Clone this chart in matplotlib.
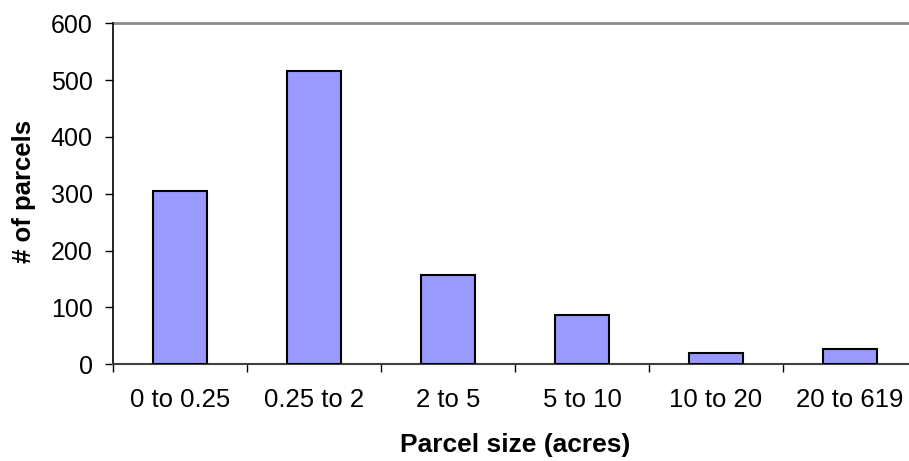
import matplotlib
matplotlib.use("Agg")
import matplotlib.pyplot as plt
import numpy as np

categories = ["0 to 0.25", "0.25 to 2", "2 to 5", "5 to 10", "10 to 20", "20 to 619"]
parcels = [305, 516, 157, 87, 20, 27]
yticks = [0, 100, 200, 300, 400, 500, 600]

plt.rcParams["font.family"] = ["Liberation Sans", "DejaVu Sans"]

W, H = 909, 461
fig = plt.figure(figsize=(W / 100, H / 100), dpi=100)
# plot area runs a little past the right edge of the picture, as in the original
ax = fig.add_axes([113 / W, (H - 364.3) / H, 804 / W, 341 / H])

x = np.arange(len(categories))
ax.bar(x, parcels, width=0.4, color="#9999FF", edgecolor="black", linewidth=1.5, zorder=3)

ax.set_xlim(-0.5, len(categories) - 0.5)
ax.set_ylim(0, 600)
ax.axhline(600, color="#8a8a8a", linewidth=2, zorder=2, clip_on=False)

for s in ["top", "right"]:
    ax.spines[s].set_visible(False)
ax.spines["left"].set_color("black")
ax.spines["bottom"].set_color("#404040")
ax.spines["left"].set_linewidth(1.2)
ax.spines["bottom"].set_linewidth(1.5)

ax.set_yticks(yticks)
ax.tick_params(axis="y", length=6, width=1, labelsize=18, pad=8.5)

# boundaries as major ticks, names as minor (centered) labels
ax.set_xticks(np.arange(len(categories) + 1) - 0.5)
ax.set_xticklabels([])
ax.set_xticks(x, minor=True)
ax.set_xticklabels(categories, minor=True)
ax.tick_params(axis="x", which="major", direction="out", length=6, width=1)
ax.tick_params(axis="x", which="minor", length=0, labelsize=18.5, pad=17)

fig.text(515 / W, 1 - 445 / H, "Parcel size (acres)", fontsize=19, fontweight="bold",
         ha="center", va="center")
fig.text(23.5 / W, 1 - 191 / H, "# of parcels", fontsize=18.5, fontweight="bold",
         ha="center", va="center", rotation=90)

fig.savefig("out.png", dpi=100)
